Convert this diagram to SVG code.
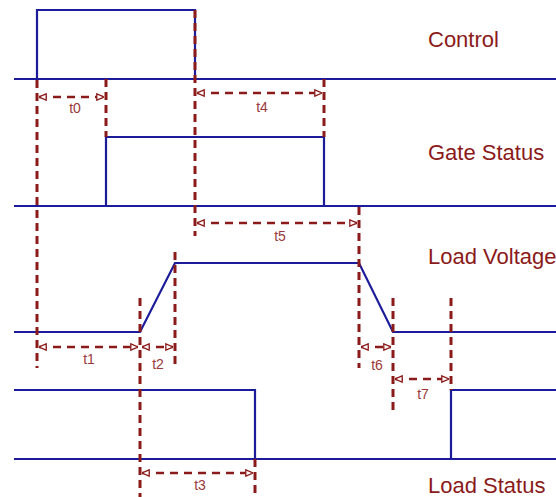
<svg xmlns="http://www.w3.org/2000/svg" width="556" height="497" viewBox="0 0 556 497">
<style>
.sig{fill:none;stroke:#1c1c9a;stroke-width:2.2;stroke-linejoin:miter}
.vd{fill:none;stroke:#8b1a1a;stroke-width:3;stroke-dasharray:8,5}
.hd{fill:none;stroke:#8b1a1a;stroke-width:2.4;stroke-dasharray:8,6;marker-start:url(#ah);marker-end:url(#ah)}
.lbl{font-family:"Liberation Sans",Arial,sans-serif;font-size:22px;fill:#8b1a1a}
.tl{font-family:"Liberation Sans",Arial,sans-serif;font-size:14px;fill:#9a3a3a;text-anchor:middle}
</style>
<defs>
<marker id="ah" viewBox="0 0 10 10" refX="10" refY="5" markerUnits="userSpaceOnUse" markerWidth="8" markerHeight="8" orient="auto-start-reverse">
<path d="M1,1 L10,5 L1,9 Z" fill="#fff" stroke="#8b1a1a" stroke-width="1.6" stroke-dasharray="none"/>
</marker>
</defs>
<rect width="556" height="497" fill="#fff"/>
<g id="control">
<line class="sig" x1="14" y1="79" x2="556" y2="79"/>
<polyline class="sig" points="37,79 37,10 195,10 195,79"/>
<text class="lbl" x="428" y="47">Control</text>
</g>
<g id="gate-status">
<line class="sig" x1="14" y1="206" x2="556" y2="206"/>
<polyline class="sig" points="106,206 106,137 324,137 324,206"/>
<text class="lbl" x="428" y="160">Gate Status</text>
</g>
<g id="load-voltage">
<polyline class="sig" points="14,332 140,332 175,263 359,263 393,332 556,332"/>
<text class="lbl" x="428" y="264">Load Voltage</text>
</g>
<g id="load-status">
<polyline class="sig" points="14,390 255,390 255,459"/>
<line class="sig" x1="14" y1="459" x2="556" y2="459"/>
<polyline class="sig" points="451,459 451,390 556,390"/>
<text class="lbl" x="428" y="493">Load Status</text>
</g>
<g id="connectors">
<line class="vd" x1="37" y1="80" x2="37" y2="368"/>
<line class="vd" x1="106" y1="79" x2="106" y2="137"/>
<line class="vd" x1="195" y1="10" x2="195" y2="236"/>
<line class="vd" x1="324" y1="79" x2="324" y2="137"/>
<line class="vd" x1="359" y1="207" x2="359" y2="368"/>
<line class="vd" x1="140" y1="298" x2="140" y2="497"/>
<line class="vd" x1="175" y1="252" x2="175" y2="368"/>
<line class="vd" x1="393" y1="298" x2="393" y2="414"/>
<line class="vd" x1="451" y1="298" x2="451" y2="390"/>
<line class="vd" x1="255" y1="459" x2="255" y2="497"/>
<line class="hd" x1="39" y1="97" x2="104" y2="97"/>
<line class="hd" x1="197" y1="93" x2="322" y2="93"/>
<line class="hd" x1="197" y1="223" x2="357" y2="223"/>
<line class="hd" x1="39" y1="347" x2="138" y2="347"/>
<line class="hd" x1="142" y1="347" x2="173" y2="347"/>
<line class="hd" x1="361" y1="347" x2="391" y2="347"/>
<line class="hd" x1="395" y1="379" x2="449" y2="379"/>
<line class="hd" x1="142" y1="473" x2="253" y2="473"/>
<text class="tl" x="75" y="113">t0</text>
<text class="tl" x="262" y="112">t4</text>
<text class="tl" x="280" y="241">t5</text>
<text class="tl" x="89" y="364">t1</text>
<text class="tl" x="158" y="369">t2</text>
<text class="tl" x="377" y="370">t6</text>
<text class="tl" x="423" y="399">t7</text>
<text class="tl" x="200" y="490">t3</text>
</g>
</svg>
